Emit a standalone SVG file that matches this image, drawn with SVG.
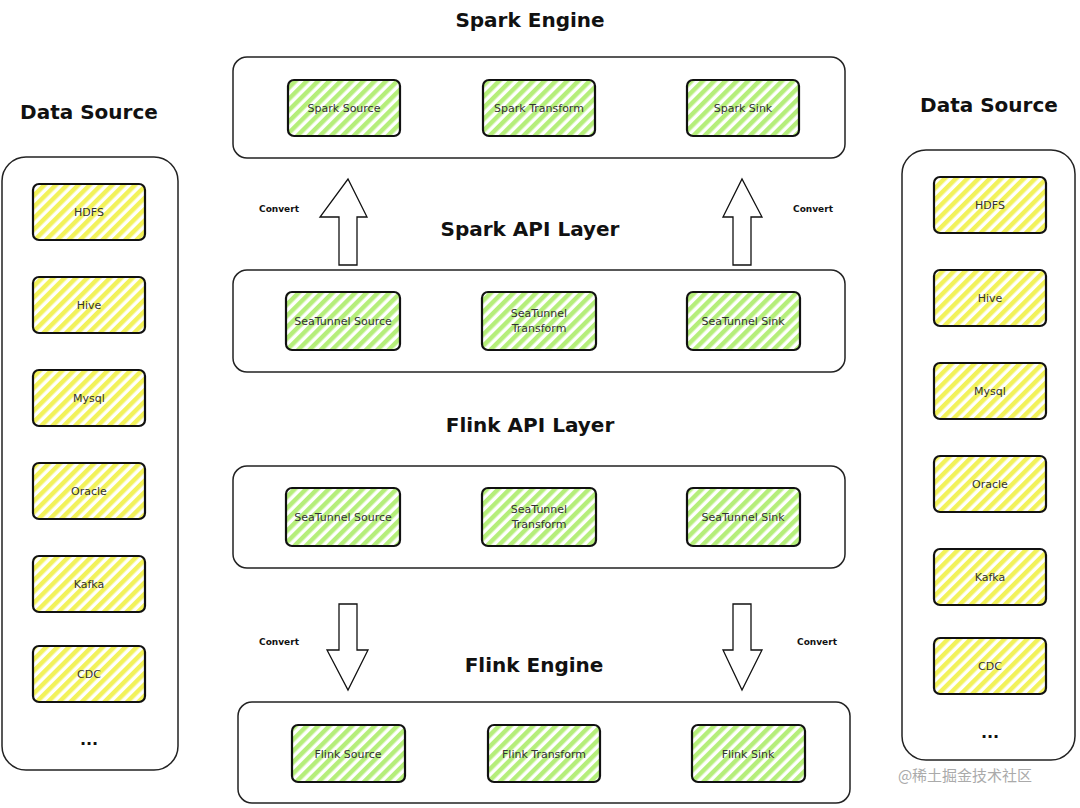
<svg xmlns="http://www.w3.org/2000/svg" width="1080" height="808" viewBox="0 0 1080 808">
<defs>
<pattern id="hg" patternUnits="userSpaceOnUse" width="8" height="8" patternTransform="rotate(45)">
<rect width="8" height="8" fill="#ffffff"/><rect width="4.5" height="8" fill="#b5ee7a"/></pattern>
<pattern id="hy" patternUnits="userSpaceOnUse" width="8" height="8" patternTransform="rotate(45)">
<rect width="8" height="8" fill="#ffffff"/><rect width="4.5" height="8" fill="#f2f25a"/></pattern>
</defs>
<style>
.c{fill:#fff;stroke:#222;stroke-width:1.5}
.ng{fill:url(#hg);stroke:#111;stroke-width:2.2}
.ny{fill:url(#hy);stroke:#111;stroke-width:2.2}
.t{font-family:"DejaVu Sans",sans-serif;font-size:11px;fill:#333;text-anchor:middle}
.h{font-family:"DejaVu Sans",sans-serif;font-size:20px;font-weight:bold;fill:#111;text-anchor:middle}
.cv{font-family:"DejaVu Sans",sans-serif;font-size:9px;font-weight:bold;fill:#111;text-anchor:middle}
.ar{fill:#fff;stroke:#111;stroke-width:1.3}
</style>
<rect width="1080" height="808" fill="#fff"/>
<text class="h" x="89" y="119">Data Source</text>
<text class="h" x="989" y="112">Data Source</text>
<text class="h" x="530" y="27">Spark Engine</text>
<text class="h" x="530" y="236">Spark API Layer</text>
<text class="h" x="530" y="432">Flink API Layer</text>
<text class="h" x="534" y="672">Flink Engine</text>
<g id="left-src">
<rect class="c" x="2" y="157" width="176" height="613" rx="24"/>
<rect class="ny" x="33" y="184" width="112" height="56" rx="6"/><text class="t" x="89" y="216">HDFS</text>
<rect class="ny" x="33" y="277" width="112" height="56" rx="6"/><text class="t" x="89" y="309">Hive</text>
<rect class="ny" x="33" y="370" width="112" height="56" rx="6"/><text class="t" x="89" y="402">Mysql</text>
<rect class="ny" x="33" y="463" width="112" height="56" rx="6"/><text class="t" x="89" y="495">Oracle</text>
<rect class="ny" x="33" y="556" width="112" height="56" rx="6"/><text class="t" x="89" y="588">Kafka</text>
<rect class="ny" x="33" y="646" width="112" height="56" rx="6"/><text class="t" x="89" y="678">CDC</text>
<text class="h" x="89" y="745" style="font-size:16px">...</text>
</g>
<g id="right-src">
<rect class="c" x="902" y="150" width="173" height="610" rx="24"/>
<rect class="ny" x="934" y="177" width="112" height="56" rx="6"/><text class="t" x="990" y="209">HDFS</text>
<rect class="ny" x="934" y="270" width="112" height="56" rx="6"/><text class="t" x="990" y="302">Hive</text>
<rect class="ny" x="934" y="363" width="112" height="56" rx="6"/><text class="t" x="990" y="395">Mysql</text>
<rect class="ny" x="934" y="456" width="112" height="56" rx="6"/><text class="t" x="990" y="488">Oracle</text>
<rect class="ny" x="934" y="549" width="112" height="56" rx="6"/><text class="t" x="990" y="581">Kafka</text>
<rect class="ny" x="934" y="638" width="112" height="56" rx="6"/><text class="t" x="990" y="670">CDC</text>
<text class="h" x="990" y="738" style="font-size:16px">...</text>
</g>
<g id="spark-engine">
<rect class="c" x="233" y="57" width="612" height="101" rx="14"/>
<rect class="ng" x="288" y="80" width="112" height="56" rx="6"/><text class="t" x="344" y="112">Spark Source</text>
<rect class="ng" x="483" y="80" width="112" height="56" rx="6"/><text class="t" x="539" y="112">Spark Transform</text>
<rect class="ng" x="687" y="80" width="112" height="56" rx="6"/><text class="t" x="743" y="112">Spark Sink</text>
</g>
<g id="spark-api">
<rect class="c" x="233" y="270" width="612" height="102" rx="14"/>
<rect class="ng" x="286" y="292" width="114" height="58" rx="6"/><text class="t" x="343" y="325">SeaTunnel Source</text>
<rect class="ng" x="482" y="292" width="114" height="58" rx="6"/><text class="t" x="539" y="317">SeaTunnel</text><text class="t" x="539" y="332">Transform</text>
<rect class="ng" x="687" y="292" width="113" height="58" rx="6"/><text class="t" x="743" y="325">SeaTunnel Sink</text>
</g>
<g id="flink-api">
<rect class="c" x="233" y="466" width="612" height="102" rx="14"/>
<rect class="ng" x="286" y="488" width="114" height="58" rx="6"/><text class="t" x="343" y="521">SeaTunnel Source</text>
<rect class="ng" x="482" y="488" width="114" height="58" rx="6"/><text class="t" x="539" y="513">SeaTunnel</text><text class="t" x="539" y="528">Transform</text>
<rect class="ng" x="687" y="488" width="113" height="58" rx="6"/><text class="t" x="743" y="521">SeaTunnel Sink</text>
</g>
<g id="flink-engine">
<rect class="c" x="238" y="702" width="612" height="101" rx="14"/>
<rect class="ng" x="292" y="725" width="113" height="57" rx="6"/><text class="t" x="348" y="758">Flink Source</text>
<rect class="ng" x="488" y="725" width="112" height="57" rx="6"/><text class="t" x="544" y="758">Flink Transform</text>
<rect class="ng" x="692" y="725" width="113" height="57" rx="6"/><text class="t" x="748" y="758">Flink Sink</text>
</g>
<g id="connectors">
<polygon class="ar" points="339,265 357,265 357,217 367,217 348,179 320,217 339,217"/>
<polygon class="ar" points="733,265 751,265 751,217 762,217 742,179 723,217 733,217"/>
<polygon class="ar" points="339,604 357,604 357,650 368,650 348,690 327,650 339,650"/>
<polygon class="ar" points="733,604 751,604 751,650 762,650 742,690 723,650 733,650"/>
<text class="cv" x="279" y="212">Convert</text>
<text class="cv" x="813" y="212">Convert</text>
<text class="cv" x="279" y="645">Convert</text>
<text class="cv" x="817" y="645">Convert</text>
</g>
<text x="965" y="781" style="font-family:'Noto Sans CJK SC',sans-serif;font-size:15px;fill:#aaa;text-anchor:middle">@稀土掘金技术社区</text>
</svg>
